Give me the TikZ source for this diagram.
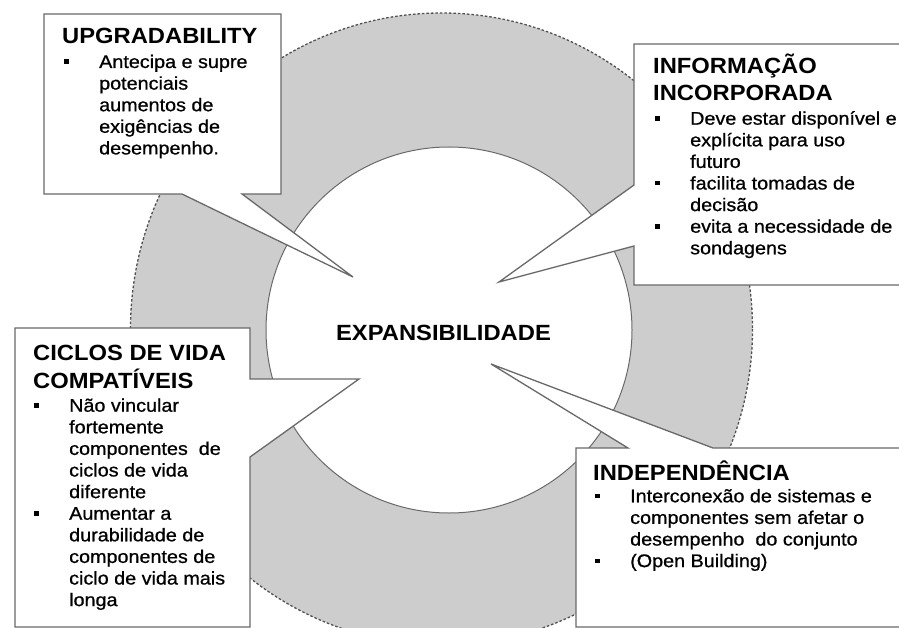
\documentclass[tikz,border=0pt]{standalone}
\usepackage{fontspec}
\setmainfont{Liberation Sans}[FakeStretch=1.08]
\newfontfamily\bodyfam{Liberation Sans}[FakeStretch=1.08, FakeBold=0.8]
\newcommand{\mytitle}{\fontsize{22}{26.7}\selectfont\bfseries}
\newcommand{\mybody}{\bodyfam\fontsize{18.3}{21.6}\selectfont}
\newcommand{\mybul}{\makebox[35pt][l]{\rule[4pt]{4.5pt}{4.5pt}}}
\definecolor{ringgray}{RGB}{205,205,205}
\definecolor{edgegray}{RGB}{105,105,105}
\definecolor{dashgray}{RGB}{80,80,80}
\tikzset{
  ring/.style={fill=ringgray, draw=dashgray, line width=1.3pt, dash pattern=on 2.5pt off 2pt},
  hub/.style={fill=white, draw=edgegray, line width=1pt},
  callout/.style={fill=white, draw=edgegray, line width=1.3pt, line join=miter},
  ttl/.style={anchor=base west, inner sep=0pt, font=\mytitle},
  txt/.style={anchor=base west, inner sep=0pt, font=\mybody}
}
\begin{document}
\begin{tikzpicture}[x=1pt, y=-1pt]
\useasboundingbox (0,0) rectangle (899,628);
\clip (0,0) rectangle (899,628);
\fill[white] (0,0) rectangle (899,628);
% rings
\draw[ring] (441.5,329) ellipse [x radius=311, y radius=316];
\draw[hub] (449,330) circle (183);
% callout tips
\coordinate (tipA) at (353,277);
\coordinate (tipB) at (499,282);
\coordinate (tipC) at (359,379);
\coordinate (tipD) at (491,364);
% callouts
\draw[callout] (44,14) -- (281,14) -- (281,194) -- (242,194) -- (tipA) -- (182,194) -- (44,194) -- cycle;
\draw[callout] (634,44) -- (910,44) -- (910,285) -- (634,285) -- (634,246) -- (tipB) -- (634,185) -- cycle;
\draw[callout] (15,328) -- (250,328) -- (250,379) -- (tipC) -- (250,457) -- (250,627) -- (15,627) -- cycle;
\draw[callout] (576,448) -- (628,448) -- (tipD) -- (713,448) -- (910,448) -- (910,627) -- (576,627) -- cycle;
% centre
\node[anchor=base, inner sep=0pt, font=\mytitle] (centre) at (443.5,340.7) {EXPANSIBILIDADE};
% box A
\node[ttl] (tA) at (62,44) {UPGRADABILITY};
\node[txt] (bA) at (64,68) {\begin{tabular}[t]{@{}l@{}l@{}}
\mybul & Antecipa e supre\\
 & potenciais\\
 & aumentos de\\
 & exigências de\\
 & desempenho.
\end{tabular}};
% box B
\node[ttl] (tB) at (653,74) {\begin{tabular}[t]{@{}l@{}}INFORMAÇÃO\\ INCORPORADA\end{tabular}};
\node[txt] (bB) at (655,124.7) {\begin{tabular}[t]{@{}l@{}l@{}}
\mybul & Deve estar disponível e\\
 & explícita para uso\\
 & futuro\\
\mybul & facilita tomadas de\\
 & decisão\\
\mybul & evita a necessidade de\\
 & sondagens
\end{tabular}};
% box C
\node[ttl] (tC) at (33,360.7) {\begin{tabular}[t]{@{}l@{}}CICLOS DE VIDA\\ COMPATÍVEIS\end{tabular}};
\node[txt] (bC) at (34,411.7) {\begin{tabular}[t]{@{}l@{}l@{}}
\mybul & Não vincular\\
 & fortemente\\
 & componentes\ \ de\\
 & ciclos de vida\\
 & diferente\\
\mybul & Aumentar a\\
 & durabilidade de\\
 & componentes de\\
 & ciclo de vida mais\\
 & longa
\end{tabular}};
% box D
\node[ttl] (tD) at (593,480.7) {INDEPENDÊNCIA};
\node[txt] (bD) at (595,502.3) {\begin{tabular}[t]{@{}l@{}l@{}}
\mybul & Interconexão de sistemas e\\
 & componentes sem afetar o\\
 & desempenho\ \ do conjunto\\
\mybul & (Open Building)
\end{tabular}};
\end{tikzpicture}
\end{document}
